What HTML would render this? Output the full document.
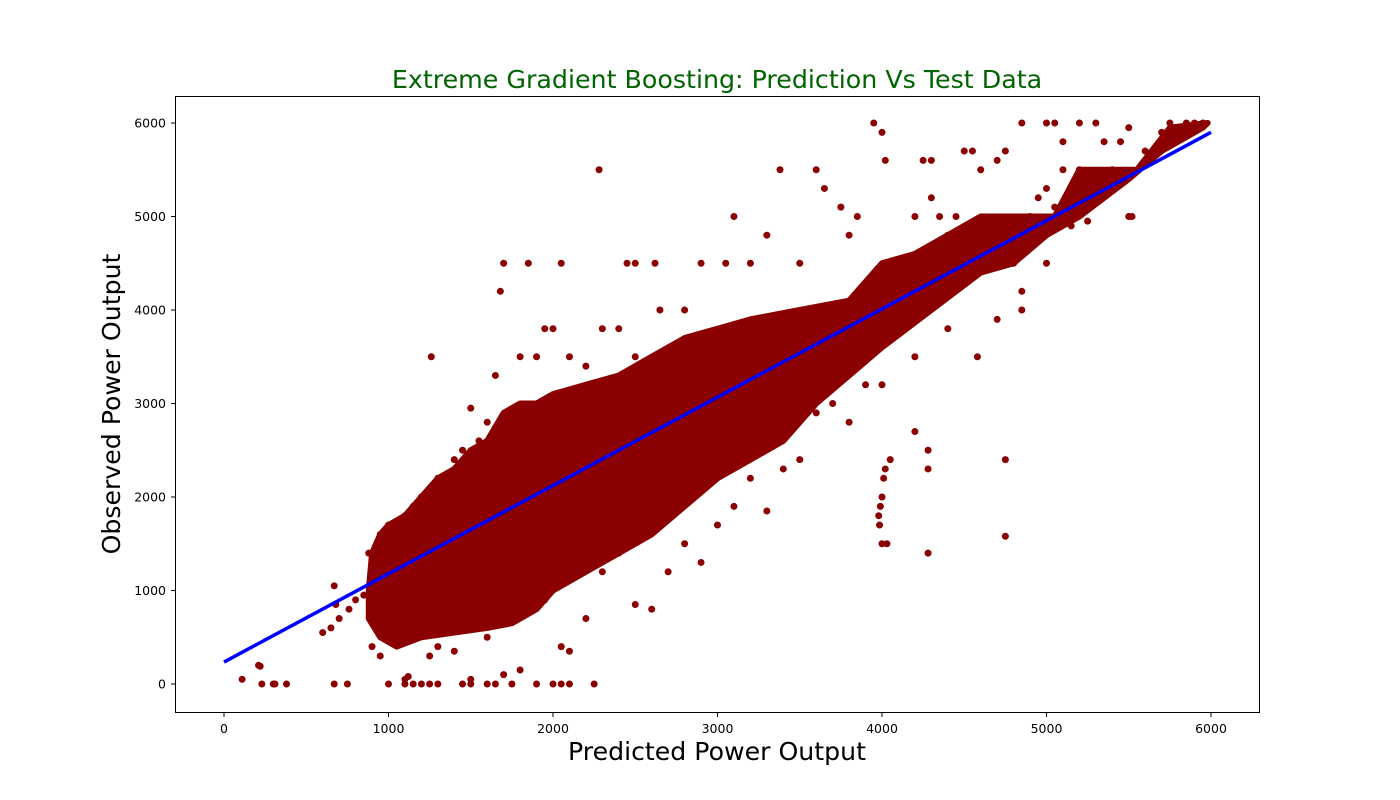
<!DOCTYPE html>
<html><head><meta charset="utf-8"><style>
html,body{margin:0;padding:0;background:#fff;}
svg{display:block;font-family:"DejaVu Sans","Liberation Sans",sans-serif;}
</style></head><body>
<svg id="chart" width="1400" height="800">
<rect width="1400" height="800" fill="#fff"/>
<text x="717" y="88" text-anchor="middle" font-size="25.3" fill="#006400">Extreme Gradient Boosting: Prediction Vs Test Data</text>
<text x="717" y="760" text-anchor="middle" font-size="25.2" fill="#000">Predicted Power Output</text>
<text x="0" y="0" transform="translate(120,404) rotate(-90)" text-anchor="middle" font-size="25.2" fill="#000">Observed Power Output</text>
<g id="marks"></g>
<rect x="175.5" y="96.5" width="1084" height="616" fill="none" stroke="#000" stroke-width="1"/>
<g id="axes"></g>
</svg>
<script>
const xTicks=[0,1000,2000,3000,4000,5000,6000];
const yTicks=[0,1000,2000,3000,4000,5000,6000];
const fitStart=[0,235];
const fitEnd=[6000,5900];
const coreX=[880,900,950,1000,1100,1200,1300,1400,1500,1600,1700,1800,1900,2000,2200,2400,2600,2800,3000,3200,3500,3800,4000,4200,4400,4600,4800,5050,5200,5550,5750,5980,5950,5700,5500,5200,5000,4800,4600,4300,4000,3800,3600,3400,3200,3000,2800,2600,2400,2200,2000,1900,1750,1600,1400,1200,1050,950,880];
const coreY=[1000,1400,1600,1700,1800,2000,2200,2300,2500,2600,2900,3000,3000,3100,3200,3300,3500,3700,3800,3900,4000,4100,4500,4600,4800,5000,5000,5000,5500,5500,5950,6000,5950,5700,5400,5000,4800,4500,4400,4000,3600,3300,3000,2600,2400,2200,1900,1600,1400,1200,1000,800,650,600,550,500,400,500,700];
const ptsX=[110,210,220,230,300,310,380,670,750,670,680,600,650,700,760,800,850,880,920,1000,1100,1150,1200,1250,1300,1450,1500,1600,1650,1750,1900,2000,2050,2100,2250,1100,1120,1500,1700,1800,1250,1300,1400,1600,2050,2100,2200,2300,2400,2500,2600,2700,2800,2900,3000,3100,3200,3300,3400,3500,3600,3700,3800,3900,4000,4050,4020,4010,4000,3990,3980,3985,4000,4030,4200,4280,4280,4280,4750,4750,4700,4850,4850,4400,4580,4200,1260,1500,1680,1700,1850,2050,2280,2450,2500,2620,2300,2000,1800,2400,2650,2800,2900,3050,3100,3200,3300,3380,3500,3600,3650,3750,3800,3850,3950,4000,4020,4200,4250,4300,4300,4400,4500,4550,4600,4700,4750,4850,5000,5050,5100,5200,5300,5350,5450,5500,5500,5520,5100,5200,5000,4900,4950,5050,4650,4800,5000,5150,5250,5700,5750,5850,5900,5950,5600,5400,4450,4350,4650,950,1000,1050,1100,1150,1200,1300,1400,1450,1550,1600,1750,1650,1900,2100,1950,2200,2500,900,950,1050,1200,1450,1700,1800,1950,2150,2350,2600,2400,3200,3400];
const ptsY=[50,200,190,0,0,0,0,0,0,1050,850,550,600,700,800,900,950,1400,1100,0,0,0,0,0,0,0,0,0,0,0,0,0,0,0,0,50,80,50,100,150,300,400,350,500,400,350,700,1200,1400,850,800,1200,1500,1300,1700,1900,2200,1850,2300,2400,2900,3000,2800,3200,3200,2400,2300,2200,2000,1900,1800,1700,1500,1500,2700,2500,2300,1400,2400,1580,3900,4000,4200,3800,3500,3500,3500,2950,4200,4500,4500,4500,5500,4500,4500,4500,3800,3800,3500,3800,4000,4000,4500,4500,5000,4500,4800,5500,4500,5500,5300,5100,4800,5000,6000,5900,5600,5000,5600,5600,5200,4800,5700,5700,5500,5600,5700,6000,6000,6000,5800,6000,6000,5800,5800,5950,5000,5000,5500,5500,5300,5000,5200,5100,4500,4500,4500,4900,4950,5900,6000,6000,6000,6000,5700,5500,5000,5000,4800,1600,1700,1700,1800,1900,2000,2200,2400,2500,2600,2800,2900,3300,3500,3500,3800,3400,3500,400,300,500,550,800,900,1000,900,1200,1600,1900,1700,2500,2800];
const NS="http://www.w3.org/2000/svg";
const X=v=>224+v*(1211-224)/6000;
const Y=v=>684-v*(684-123)/6000;
const marks=document.getElementById('marks'), axes=document.getElementById('axes');
function mk(tag,parent){const e=document.createElementNS(NS,tag);parent.appendChild(e);return e;}
const poly=mk('polygon',marks);


poly.setAttribute('points',coreX.map((v,i)=>X(v)+','+Y(coreY[i])).join(' '));
poly.setAttribute('fill','#8b0000');poly.setAttribute('stroke','#8b0000');poly.setAttribute('stroke-width','6');poly.setAttribute('stroke-linejoin','round');
ptsX.forEach((v,i)=>{const c=mk('circle',marks);


c.setAttribute('cx',X(v));c.setAttribute('cy',Y(ptsY[i]));c.setAttribute('r',3.5);c.setAttribute('fill','#8b0000');});
const ln=mk('line',marks);


ln.setAttribute('x1',X(fitStart[0]));ln.setAttribute('y1',Y(fitStart[1]));ln.setAttribute('x2',X(fitEnd[0]));ln.setAttribute('y2',Y(fitEnd[1]));
ln.setAttribute('stroke','#0000ff');ln.setAttribute('stroke-width','3.5');
xTicks.forEach(t=>{const l=mk('line',axes);


l.setAttribute('x1',X(t));l.setAttribute('x2',X(t));l.setAttribute('y1',713);l.setAttribute('y2',717);l.setAttribute('stroke','#000');
const tx=mk('text',axes);


tx.setAttribute('x',X(t));tx.setAttribute('y',733);tx.setAttribute('text-anchor','middle');tx.setAttribute('font-size','12.5');tx.textContent=t;});
yTicks.forEach(t=>{const l=mk('line',axes);


l.setAttribute('x1',171);l.setAttribute('x2',175);l.setAttribute('y1',Y(t));l.setAttribute('y2',Y(t));l.setAttribute('stroke','#000');
const tx=mk('text',axes);


tx.setAttribute('x',166);tx.setAttribute('y',Y(t)+4.5);tx.setAttribute('text-anchor','end');tx.setAttribute('font-size','12.5');tx.textContent=t;});
</script>
</body></html>
